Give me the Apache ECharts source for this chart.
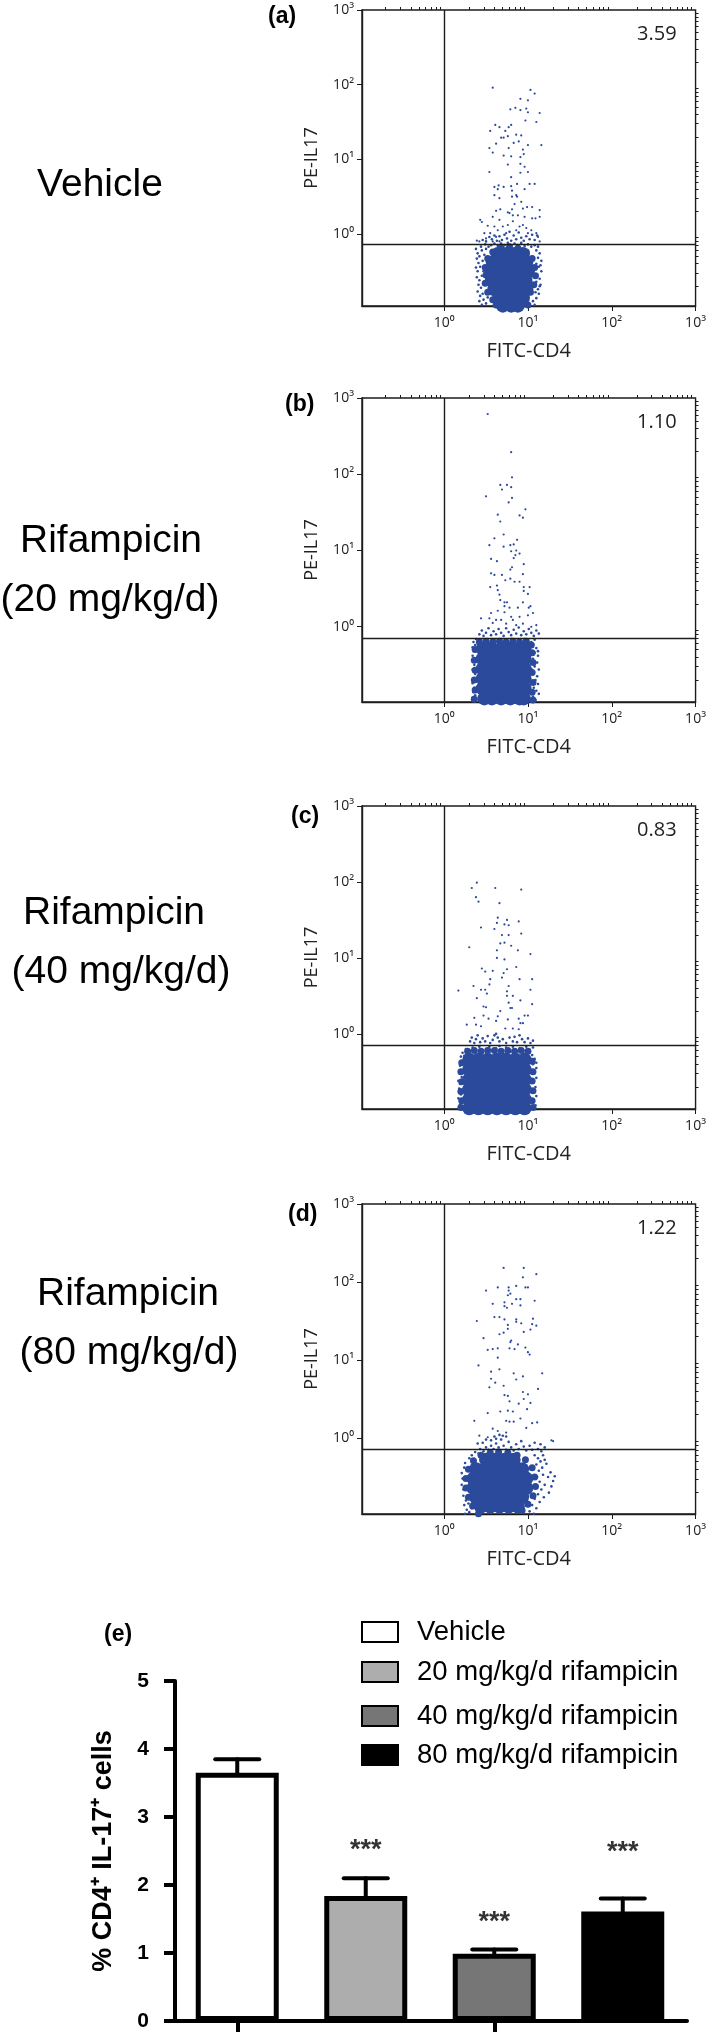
<!DOCTYPE html>
<html>
<head>
<meta charset="utf-8">
<title>PE-IL17 / FITC-CD4</title>
<script src="https://cdn.jsdelivr.net/npm/echarts@6/dist/echarts.min.js"></script>
<style>
  html, body { margin: 0; padding: 0; background: #fff; }
  #main { width: 709px; height: 2032px; }
</style>
</head>
<body>
<div id="main"></div>
<script>
// flow plots: all points are [log10 FITC-CD4, log10 PE-IL17], estimated from the figure
const sparseA = [[.58,1.96],[1.03,1.93],[1.08,1.88],[.91,1.81],[1,1.79],[.79,1.67],[.85,1.69],[.91,1.66],[.98,1.68],[1,1.63],[1.14,1.62],[.97,1.52],[1.1,1.5],[.61,1.46],[.66,1.43],[.55,1.38],[.8,1.46],[.77,1.43],[.73,1.38],[.71,1.29],[.68,1.29],[.76,1.31],[.86,1.33],[.92,1.32],[.89,1.24],[.83,1.22],[1,1.19],[1.16,1.19],[.62,1.21],[.77,1.15],[.54,1.15],[.58,1.09],[.71,1.05],[.8,1.04],[.91,1.03],[.95,1.07],[.94,1.13],[.91,.94],[.96,.9],[.76,.93],[1,.83],[.91,.82],[.54,.83],[.8,.76],[.87,.67],[1.02,.67],[1.08,.67],[.8,.64],[.96,.6],[.6,.63],[.65,.65],[.64,.6],[.71,.63],[.86,.52],[.81,.58],[.6,.52],[.66,.48],[.81,.5],[.87,.5],[.84,.4],[.92,.43],[.43,.19],[.45,.16],[.67,.33],[.62,.31],[.58,.23],[.76,.29],[.81,.33],[.94,.34],[.99,.36],[1.05,.36],[1.14,.32],[1.14,.23],[1.09,.21],[1.05,.21],[.96,.23],[.88,.25],[.82,.25],[.78,.28],[.66,.19],[.6,.1],[.52,.11],[.48,.01],[.42,-.1],[.39,-.09],[.5,-.06],[.55,.01],[.64,.05],[.7,.1],[.76,.12],[.82,.17],[.9,.1],[.98,.08],[1.04,.05],[1.12,-.04],[1.14,-.1],[1.1,.01],[.62,-.04],[.74,.01],[.86,.05],[.94,.12],[1,.01],[.58,-.1],[.66,-.1]];
const fringeA = [[.38,-.2],[.4,-.26],[.39,-.33],[.42,-.3],[.41,-.39],[.38,-.45],[.4,-.5],[.43,-.44],[.39,-.58],[.42,-.62],[.41,-.68],[.45,-.56],[.44,-.72],[.4,-.77],[.43,-.83],[.46,-.8],[.42,-.9],[.47,-.88],[.45,-.95],[.5,-.93],[.52,-.85],[.48,-.68],[.47,-.5],[.46,-.36],[.45,-.22],[.48,-.28],[.5,-.2],[.53,-.17],[.49,-.14],[.44,-.17],[.56,-.15],[.6,-.13],[.64,-.16],[.68,-.13],[.72,-.15],[.76,-.12],[.8,-.16],[.84,-.13],[.88,-.15],[.92,-.12],[.96,-.16],[1,-.14],[1.04,-.17],[1.08,-.15],[1.12,-.17],[.46,-.08],[.5,-.1],[.54,-.04],[.57,-.07],[.6,-.02],[.63,-.09],[.66,-.03],[.69,-.08],[.72,-.01],[.75,-.06],[.78,.03],[.8,-.09],[.83,-.02],[.86,-.07],[.89,.02],[.92,-.05],[.95,-.09],[.98,-.03],[1.02,-.07],[1.05,-.01],[1.08,-.08],[1.11,-.02],[1.1,-.22],[1.14,-.26],[1.12,-.32],[1.16,-.36],[1.1,-.4],[1.13,-.44],[1.16,-.5],[1.11,-.55],[1.14,-.6],[1.1,-.64],[1.15,-.68],[1.12,-.74],[1.09,-.78],[1.13,-.8],[1.1,-.86],[1.14,-.7],[1.06,-.9],[1.02,-.95],[1.08,-.95],[1.15,-.42]];
const haloA = [[.78,-.17],[.88,-.19],[.98,-.24],[1.05,-.33],[1.08,-.45],[1.09,-.56],[1.07,-.68],[1.03,-.78],[.96,-.88],[.5,-.55],[.49,-.45],[.52,-.33],[.58,-.24],[.68,-.19],[.49,-.66],[.52,-.78],[.58,-.88],[.62,-.95],[1,-.95]];
const coreA = [[.64,-.27],[.74,-.27],[.84,-.27],[.94,-.27],[.58,-.38],[.68,-.38],[.78,-.38],[.88,-.38],[.98,-.38],[.57,-.5],[.67,-.5],[.77,-.5],[.87,-.5],[.97,-.5],[1,-.5],[.57,-.62],[.67,-.62],[.77,-.62],[.87,-.62],[.97,-.62],[.6,-.74],[.7,-.74],[.8,-.74],[.9,-.74],[.98,-.74],[.66,-.86],[.76,-.86],[.86,-.86],[.94,-.86],[.7,-.96],[.8,-.96],[.88,-.96]];

const sparseB = [[.52,2.79],[.8,2.29],[.81,1.96],[.67,1.86],[.69,1.8],[.75,1.86],[.8,1.83],[.5,1.71],[.81,1.69],[.77,1.63],[.97,1.54],[.64,1.47],[.9,1.46],[.94,1.43],[.67,1.38],[.71,1.21],[.6,1.16],[.87,1.14],[.83,1.08],[.79,1.07],[.71,1.05],[.54,1.07],[.8,.99],[.86,1],[.9,.96],[.85,.94],[.83,.9],[.56,.89],[.63,.86],[.95,.82],[.81,.78],[.79,.75],[.56,.7],[.6,.68],[.69,.68],[.94,.69],[.73,.61],[.79,.63],[.84,.59],[.9,.59],[.63,.54],[.55,.52],[.64,.48],[.95,.52],[1.02,.52],[.95,.47],[1,.43],[.66,.42],[.67,.35],[.72,.32],[.75,.32],[.72,.27],[.94,.32],[1.03,.27],[1.01,.25],[.88,.25],[.78,.25],[.64,.21],[.56,.18],[.72,.19],[1.06,.18],[1,.15],[.44,.11],[.54,.11],[.62,.09],[.58,.05],[.68,.09],[.8,.13],[.82,.09],[.9,.13],[.94,.04],[.74,.04],[.86,.02],[1.1,.02],[1.04,0]];
const fringeB = [[.35,-.2],[.34,-.27],[.36,-.32],[.34,-.38],[.37,-.24],[.35,-.45],[.36,-.5],[.34,-.56],[.37,-.62],[.35,-.68],[.34,-.74],[.36,-.8],[.35,-.86],[.37,-.9],[.34,-.93],[.36,-.97],[.38,-.83],[.39,-.7],[.38,-.16],[.41,-.19],[.44,-.17],[.48,-.2],[.52,-.16],[.56,-.19],[.6,-.17],[.64,-.2],[.68,-.16],[.72,-.18],[.76,-.2],[.8,-.16],[.84,-.19],[.88,-.17],[.92,-.2],[.96,-.16],[1,-.18],[1.04,-.2],[1.08,-.17],[.42,-.1],[.45,-.05],[.47,-.12],[.5,-.08],[.53,-.02],[.56,-.11],[.59,-.06],[.62,-.1],[.65,-.03],[.68,-.08],[.71,-.12],[.74,-.02],[.77,-.07],[.8,-.11],[.83,-.04],[.86,-.09],[.89,-.01],[.92,-.11],[.95,-.06],[.98,-.1],[1.01,-.03],[1.04,-.08],[1.07,-.12],[1.1,-.05],[1.13,-.09],[1.06,-.23],[1.1,-.28],[1.08,-.34],[1.12,-.38],[1.06,-.42],[1.11,-.47],[1.08,-.52],[1.13,-.56],[1.07,-.6],[1.11,-.65],[1.09,-.7],[1.12,-.75],[1.07,-.8],[1.1,-.84],[1.13,-.88],[1.06,-.92],[1.09,-.96],[1.12,-.32],[1.05,-.72],[1.04,-.55]];
const haloB = [[.42,-.2],[.5,-.19],[.58,-.2],[.66,-.19],[.74,-.2],[.82,-.19],[.9,-.2],[.98,-.19],[1.04,-.24],[.37,-.3],[.36,-.44],[.37,-.57],[.36,-.7],[.37,-.83],[.36,-.95],[1.05,-.34],[1.06,-.47],[1.05,-.6],[1.06,-.73],[1.05,-.86],[1.06,-.96]];
const coreB = [[.46,-.29],[.57,-.29],[.68,-.29],[.79,-.29],[.9,-.29],[.96,-.29],[.46,-.42],[.57,-.42],[.68,-.42],[.79,-.42],[.9,-.42],[.96,-.42],[.46,-.55],[.57,-.55],[.68,-.55],[.79,-.55],[.9,-.55],[.96,-.55],[.46,-.68],[.57,-.68],[.68,-.68],[.79,-.68],[.9,-.68],[.96,-.68],[.46,-.81],[.57,-.81],[.68,-.81],[.79,-.81],[.9,-.81],[.96,-.81],[.48,-.94],[.57,-.94],[.68,-.94],[.79,-.94],[.9,-.94],[.95,-.94]];

const sparseC = [[.39,1.99],[.33,1.92],[.61,1.92],[.92,1.9],[.38,1.8],[.41,1.74],[.66,1.72],[.64,1.53],[.75,1.5],[.63,1.46],[.89,1.48],[.72,1.44],[.77,1.43],[.44,1.4],[.6,1.38],[.69,1.3],[.77,1.3],[.92,1.32],[.67,1.19],[.72,1.2],[.8,1.16],[.3,1.14],[.63,1.1],[.88,1.1],[1.03,1.05],[.63,1],[.72,.98],[.86,.88],[.45,.86],[.49,.82],[.58,.83],[.75,.85],[.71,.8],[.69,.74],[.55,.72],[.54,.65],[.35,.63],[.9,.72],[1.05,.72],[.44,.58],[.49,.58],[.17,.57],[.77,.63],[.75,.56],[1.03,.58],[.82,.5],[.75,.5],[.39,.47],[.51,.53],[.77,.41],[.79,.34],[.81,.34],[.91,.44],[1.05,.39],[.47,.36],[.5,.35],[.67,.3],[.64,.23],[.76,.19],[.36,.21],[.47,.24],[.53,.2],[.62,.17],[.89,.2],[.91,.14],[.94,.14],[1,.24],[.96,.24],[.27,.12],[.38,.12],[.44,.1],[.73,.07],[.82,.07],[.89,.06]];
const fringeC = [[.18,-.5],[.17,-.62],[.19,-.42],[.18,-.72],[.17,-.85],[.19,-.93],[.2,-.3],[.21,-.57],[.2,-.8],[.18,-.97],[.22,-.25],[.19,-.66],[.21,-.36],[.26,-.2],[.3,-.24],[.34,-.18],[.38,-.22],[.42,-.17],[.46,-.24],[.5,-.2],[.54,-.17],[.58,-.23],[.62,-.19],[.66,-.16],[.7,-.22],[.74,-.18],[.78,-.24],[.82,-.17],[.86,-.21],[.9,-.19],[.94,-.23],[.98,-.17],[1.02,-.21],[1.06,-.18],[.28,-.27],[.24,-.29],[.31,-.1],[.33,-.05],[.36,-.12],[.38,-.07],[.4,-.02],[.43,-.11],[.46,-.06],[.49,-.1],[.52,-.03],[.55,-.12],[.58,-.08],[.6,-.02],[.62,0],[.64,-.05],[.66,-.1],[.7,-.07],[.74,-.12],[.78,-.05],[.82,-.1],[.84,-.04],[.87,-.11],[.9,-.02],[.93,-.07],[.96,-.11],[1,-.06],[1.03,-.12],[1.06,-.09],[1.05,-.28],[1.08,-.33],[1.06,-.4],[1.1,-.45],[1.07,-.52],[1.1,-.58],[1.06,-.64],[1.09,-.7],[1.07,-.76],[1.1,-.82],[1.06,-.88],[1.09,-.94],[1.07,-.98],[1.1,-.38]];
const haloC = [[.28,-.23],[.36,-.22],[.44,-.23],[.52,-.22],[.6,-.22],[.68,-.23],[.76,-.22],[.84,-.23],[.92,-.22],[1,-.23],[.21,-.38],[.2,-.5],[.21,-.63],[.2,-.76],[.21,-.88],[.2,-.97],[1.05,-.36],[1.06,-.5],[1.05,-.62],[1.06,-.75],[1.05,-.88],[1.06,-.97]];
const coreC = [[.3,-.34],[.41,-.34],[.52,-.34],[.63,-.34],[.74,-.34],[.85,-.34],[.96,-.34],[.3,-.47],[.41,-.47],[.52,-.47],[.63,-.47],[.74,-.47],[.85,-.47],[.96,-.47],[.3,-.6],[.41,-.6],[.52,-.6],[.63,-.6],[.74,-.6],[.85,-.6],[.96,-.6],[.3,-.73],[.41,-.73],[.52,-.73],[.63,-.73],[.74,-.73],[.85,-.73],[.96,-.73],[.3,-.86],[.41,-.86],[.52,-.86],[.63,-.86],[.74,-.86],[.85,-.86],[.96,-.86],[.3,-.98],[.41,-.98],[.52,-.98],[.63,-.98],[.74,-.98],[.85,-.98],[.96,-.98]];

const sparseD = [[.71,2.18],[.95,2.18],[1.1,2.1],[.94,2.06],[.86,1.95],[.64,1.93],[.5,1.89],[.77,1.93],[.77,1.89],[.97,1.93],[1,1.93],[.79,1.85],[.76,1.83],[1.08,1.76],[.86,1.78],[.91,1.78],[.58,1.72],[.72,1.74],[.81,1.72],[.91,1.7],[.72,1.69],[.75,1.67],[.6,1.55],[.66,1.55],[.72,1.52],[.39,1.5],[.86,1.52],[.86,1.49],[1.06,1.53],[.92,1.47],[1.05,1.46],[1.1,1.44],[.76,1.45],[.76,1.4],[1.03,1.39],[.95,1.36],[.71,1.35],[.66,1.33],[.47,1.28],[.79,1.23],[.8,1.25],[.88,1.2],[.84,1.14],[.52,1.13],[.58,1.14],[.64,1.15],[.78,1.15],[.97,1.16],[1,1.1],[1.02,1.07],[.64,1.03],[.41,.93],[.66,.88],[.56,.85],[.83,.83],[1.17,.83],[.94,.79],[.56,.76],[.86,.75],[.61,.71],[.54,.65],[1.12,.63],[.71,.67],[.94,.59],[.72,.55],[.76,.54],[1,.56],[.95,.5],[.78,.47],[1.03,.45],[.89,.44],[.52,.32],[.67,.34],[.76,.35],[.82,.34],[.99,.37],[.74,.22],[.36,.22],[.78,.21],[.83,.21],[.91,.25],[1.11,.2],[1.05,.19],[.98,.13],[.58,.12],[.74,.07],[.42,.03],[.52,.01],[.64,.09],[1.28,-.03],[1.3,-.04]];
const fringeD = [[.21,-.45],[.22,-.52],[.24,-.38],[.21,-.6],[.23,-.66],[.25,-.32],[.23,-.74],[.26,-.8],[.24,-.86],[.27,-.92],[.25,-.97],[.3,-.95],[.33,-.9],[.29,-.84],[.3,-.26],[.33,-.22],[.37,-.18],[.41,-.2],[.36,-.98],[.39,-.93],[.43,-.14],[.47,-.17],[.5,-.12],[.53,-.15],[.56,-.1],[.59,-.14],[.62,-.07],[.65,-.12],[.68,-.02],[.71,-.1],[.74,-.15],[.77,-.05],[.8,-.12],[.83,-.16],[.86,-.08],[.89,-.14],[.92,-.04],[.95,-.11],[.98,-.16],[1.02,-.1],[1.05,-.15],[1.08,-.06],[1.12,-.14],[1.15,-.08],[1.16,-.17],[1.2,-.12],[.4,-.07],[.46,-.06],[.5,-.02],[.56,-.03],[.6,.02],[.66,.04],[.7,.03],[.74,.02],[.62,-.01],[1.08,-.22],[1.12,-.26],[1.18,-.22],[1.15,-.3],[1.2,-.28],[1.1,-.34],[1.17,-.38],[1.22,-.33],[1.13,-.42],[1.27,-.44],[1.3,-.55],[1.24,-.5],[1.18,-.47],[1.11,-.5],[1.14,-.56],[1.2,-.6],[1.28,-.62],[1.32,-.49],[1.1,-.62],[1.16,-.66],[1.25,-.7],[1.12,-.72],[1.19,-.76],[1.08,-.78],[1.14,-.82],[1.05,-.86],[1.1,-.9],[1.02,-.94],[1.07,-.97]];
const haloD = [[.65,-.18],[.76,-.19],[.87,-.22],[.97,-.28],[1.05,-.38],[1.08,-.5],[1.09,-.62],[1.06,-.74],[1,-.85],[.93,-.93],[.55,-.19],[.44,-.22],[.35,-.29],[.29,-.4],[.26,-.52],[.26,-.64],[.29,-.76],[.34,-.87],[.41,-.97],[.92,-.98]];
const coreD = [[.5,-.28],[.61,-.28],[.72,-.28],[.83,-.28],[.38,-.4],[.49,-.4],[.6,-.4],[.71,-.4],[.82,-.4],[.93,-.4],[.35,-.52],[.46,-.52],[.57,-.52],[.68,-.52],[.79,-.52],[.9,-.52],[.98,-.52],[.35,-.64],[.46,-.64],[.57,-.64],[.68,-.64],[.79,-.64],[.9,-.64],[.98,-.64],[.38,-.76],[.49,-.76],[.6,-.76],[.71,-.76],[.82,-.76],[.93,-.76],[.44,-.88],[.55,-.88],[.66,-.88],[.77,-.88],[.88,-.88],[.5,-.98],[.61,-.98],[.72,-.98],[.83,-.98]];

const decadeTicks = [0, 1, 2, 3];
const decadeLabels = ['10⁰', '10¹', '10²', '10³'];
const gatePercent = ['3.59', '1.10', '0.83', '1.22'];
const gateY = [-0.138, -0.154, -0.154, -0.147];
const panelLetters = ['(a)', '(b)', '(c)', '(d)'];

// bar panel (e)
const treatments = ['Vehicle', '20 mg/kg/d rifampicin', '40 mg/kg/d rifampicin', '80 mg/kg/d rifampicin'];
const percentCells = [3.65, 1.84, 0.99, 1.61];
const errorTops = [3.85, 2.10, 1.05, 1.80];
const starHeights = [null, 2.5, 1.45, 2.47];
const barColors = ['#ffffff', '#adadad', '#767676', '#000000'];

const sansSerif = '"Liberation Sans", Arial, sans-serif';
const plotFont = '"Open Sans", sans-serif';
const dotColor = '#2b4a9b';
const lineColor = '#1c1c1c';

// one px layout per flow panel, yMin is the y-axis minimum in log10 units
const flowLayout = [
  { top: 10, height: 296, yMin: -0.965, letterX: 268, letterY: 17, sparse: sparseA, fringe: fringeA, halo: haloA, core: coreA },
  { top: 398, height: 304, yMin: -0.987, letterX: 285, letterY: 405, sparse: sparseB, fringe: fringeB, halo: haloB, core: coreB },
  { top: 806, height: 303, yMin: -0.99, letterX: 291, letterY: 817, sparse: sparseC, fringe: fringeC, halo: haloC, core: coreC },
  { top: 1204, height: 310, yMin: -0.974, letterX: 288, letterY: 1215, sparse: sparseD, fringe: fringeD, halo: haloD, core: coreD }
];
const sideLabels = [
  { text: 'Vehicle', x: 100, y: 185 },
  { text: 'Rifampicin', x: 111, y: 541 },
  { text: '(20 mg/kg/d)', x: 110, y: 600 },
  { text: 'Rifampicin', x: 114, y: 913 },
  { text: '(40 mg/kg/d)', x: 121, y: 972 },
  { text: 'Rifampicin', x: 128, y: 1294 },
  { text: '(80 mg/kg/d)', x: 129, y: 1353 }
];

function minorValues(from) {
  // 2..9 in every decade of a log axis
  let out = [];
  for (let d = -1; d < 3; d++) {
    for (let m = 2; m < 10; m++) {
      let v = d + Math.log10(m);
      if (v > from) out.push(v);
    }
  }
  return out;
}

let grids = [];
let xAxes = [];
let yAxes = [];
let series = [];
let graphics = [];
let xMin = -0.98;

flowLayout.forEach((p, i) => {
  grids.push({ left: 362, width: 334, top: p.top, height: p.height, show: true, borderColor: lineColor, borderWidth: 1.4, backgroundColor: 'transparent' });
  let axisLine = { show: true, onZero: false, lineStyle: { color: lineColor, width: 1.4 } };
  let noLine = { show: false, onZero: false };
  let labelBase = {
    fontFamily: plotFont, fontSize: 14, color: '#222',
    customValues: decadeTicks, hideOverlap: false, showMinLabel: true, showMaxLabel: true,
    formatter: (v) => decadeLabels[decadeTicks.indexOf(v)]
  };
  xAxes.push({
    type: 'value', gridIndex: i, min: xMin, max: 3, splitLine: { show: false }, axisLine,
    name: 'FITC-CD4', nameLocation: 'middle', nameGap: 35,
    nameTextStyle: { fontFamily: plotFont, fontSize: 20, color: '#222' },
    axisTick: { length: 5, lineStyle: { color: lineColor, width: 1 }, customValues: decadeTicks },
    axisLabel: { ...labelBase, margin: 10 }
  });
  xAxes.push({
    type: 'value', gridIndex: i, min: xMin, max: 3, splitLine: { show: false }, axisLine: noLine,
    axisLabel: { show: false },
    axisTick: { length: 3, lineStyle: { color: lineColor, width: 1 }, customValues: minorValues(xMin) }
  });
  yAxes.push({
    type: 'value', gridIndex: i, min: p.yMin, max: 3, splitLine: { show: false }, axisLine,
    name: 'PE-IL17', nameLocation: 'middle', nameGap: 41, nameRotate: 90,
    nameTextStyle: { fontFamily: plotFont, fontSize: 18, color: '#222' },
    axisTick: { length: 5, lineStyle: { color: lineColor, width: 1 }, customValues: decadeTicks },
    axisLabel: { ...labelBase, margin: 8 }
  });
  yAxes.push({
    type: 'value', gridIndex: i, min: p.yMin, max: 3, splitLine: { show: false }, axisLine: noLine,
    axisLabel: { show: false },
    axisTick: { length: 3, lineStyle: { color: lineColor, width: 1 }, customValues: minorValues(p.yMin) }
  });

  let axisIdx = { xAxisIndex: i * 2, yAxisIndex: i * 2 };
  let dotStyle = { color: dotColor, opacity: 1 };
  series.push({ type: 'scatter', ...axisIdx, data: p.core, symbolSize: 14, itemStyle: dotStyle, silent: true });
  series.push({ type: 'scatter', ...axisIdx, data: p.halo, symbolSize: 7, itemStyle: dotStyle, silent: true });
  series.push({ type: 'scatter', ...axisIdx, data: p.fringe, symbolSize: 2.6, itemStyle: dotStyle, silent: true });
  series.push({
    type: 'scatter', ...axisIdx, data: p.sparse, symbolSize: 2.2, itemStyle: dotStyle, silent: true,
    markLine: {
      silent: true, symbol: 'none', animation: false, label: { show: false },
      lineStyle: { color: lineColor, type: 'solid', width: 1.4 },
      data: [{ xAxis: 0 }, { yAxis: gateY[i] }]
    }
  });

  graphics.push({ type: 'text', x: 637, y: p.top + 24, style: { text: gatePercent[i], fontFamily: plotFont, fontSize: 20, fill: '#222', verticalAlign: 'middle' } });
  graphics.push({ type: 'text', x: p.letterX, y: p.letterY, style: { text: panelLetters[i], fontFamily: sansSerif, fontWeight: 'bold', fontSize: 23, fill: '#000', verticalAlign: 'middle' } });
});

sideLabels.forEach((s) => {
  graphics.push({ type: 'text', x: s.x, y: s.y, style: { text: s.text, fontFamily: sansSerif, fontSize: 39, fill: '#000', align: 'center', verticalAlign: 'middle' } });
});
graphics.push({ type: 'text', x: 104, y: 1635, style: { text: '(e)', fontFamily: sansSerif, fontWeight: 'bold', fontSize: 23, fill: '#000', verticalAlign: 'middle' } });

// bar panel
let barGrid = grids.length;
grids.push({ left: 173, width: 514, top: 1681, height: 340 });
let barX = xAxes.length;
let barY = yAxes.length;
xAxes.push({
  type: 'category', gridIndex: barGrid, data: treatments,
  axisLine: { show: true, onZero: false, lineStyle: { color: '#000', width: 4 } },
  axisTick: { show: true, alignWithLabel: true, length: 13, lineStyle: { color: '#000', width: 4 } },
  axisLabel: { show: false }, splitLine: { show: false }
});
yAxes.push({
  type: 'value', gridIndex: barGrid, min: 0, max: 5, interval: 1, offset: -2,
  axisLine: { show: true, lineStyle: { color: '#000', width: 4 } },
  axisTick: { show: true, length: 11, lineStyle: { color: '#000', width: 4 } },
  axisLabel: { margin: 26, fontFamily: sansSerif, fontWeight: 'bold', fontSize: 21, color: '#000' },
  splitLine: { show: false },
  name: '% CD4⁺ IL-17⁺ cells', nameLocation: 'middle', nameGap: 58, nameRotate: 90,
  nameTextStyle: { fontFamily: sansSerif, fontWeight: 'bold', fontSize: 27, color: '#000' }
});
treatments.forEach((name, i) => {
  series.push({
    type: 'bar', name, xAxisIndex: barX, yAxisIndex: barY, stack: 'cells', barWidth: 83,
    data: percentCells.map((v, j) => (j === i ? v : '-')),
    itemStyle: { color: barColors[i], borderColor: '#000', borderWidth: 5 }
  });
});
series.push({
  type: 'custom', xAxisIndex: barX, yAxisIndex: barY, silent: true, z: 5,
  data: percentCells.map((v, i) => [i, v, errorTops[i]]),
  encode: { x: 0, y: [1, 2] },
  renderItem: (params, api) => {
    let base = api.coord([api.value(0), api.value(1)]);
    let top = api.coord([api.value(0), api.value(2)]);
    let style = { stroke: '#000', lineWidth: 4, lineCap: 'round' };
    return {
      type: 'group',
      children: [
        { type: 'line', shape: { x1: base[0], y1: base[1], x2: top[0], y2: top[1] }, style },
        { type: 'line', shape: { x1: top[0] - 22, y1: top[1], x2: top[0] + 22, y2: top[1] }, style }
      ]
    };
  }
});
series.push({
  type: 'scatter', xAxisIndex: barX, yAxisIndex: barY, silent: true, symbolSize: 0,
  data: starHeights.map((v, i) => (v === null ? null : [i, v])).filter(Boolean),
  label: { show: true, position: 'inside', formatter: '***', fontFamily: sansSerif, fontWeight: 'bold', fontSize: 27, color: '#000' }
});

let legendCenters = [1633, 1673, 1717, 1756];
let legends = treatments.map((name, i) => ({
  data: [name], left: 361, top: legendCenters[i] - 15, padding: 0, itemWidth: 36, itemHeight: 20,
  icon: 'rect', selectedMode: false,
  textStyle: { fontFamily: sansSerif, fontSize: 27.5, color: '#000', padding: [0, 0, 0, 14] }
}));

let myChart = echarts.init(document.getElementById('main'), null, { renderer: 'canvas' });
let option = {
  animation: false,
  backgroundColor: '#fff',
  grid: grids,
  xAxis: xAxes,
  yAxis: yAxes,
  legend: legends,
  graphic: graphics,
  series: series
};
myChart.setOption(option, true);
</script>
</body>
</html>
